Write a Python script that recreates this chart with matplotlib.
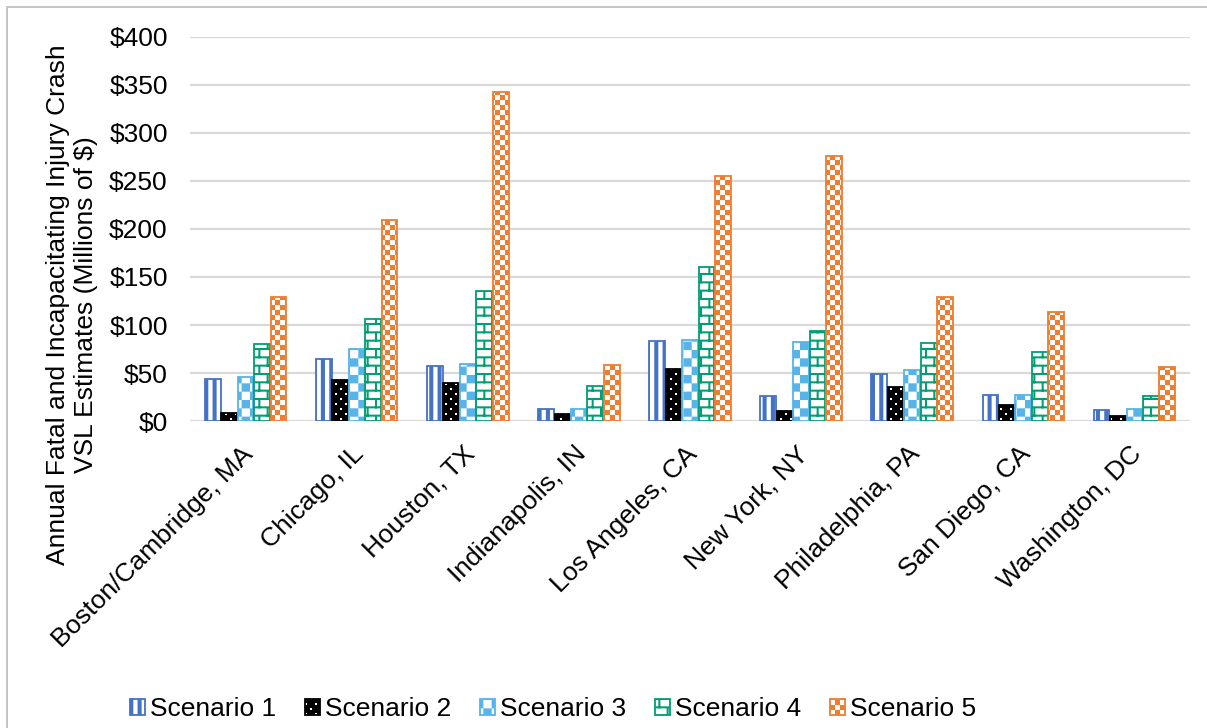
import numpy as np
import matplotlib
matplotlib.use("Agg")
import matplotlib.pyplot as plt
import matplotlib.patches as mpatches
import matplotlib.hatch as mhatch
from matplotlib.path import Path
from matplotlib.ticker import FuncFormatter
from matplotlib.transforms import ScaledTranslation

# === Datos ===
cities = ["Boston/Cambridge, MA", "Chicago, IL", "Houston, TX", "Indianapolis, IN",
          "Los Angeles, CA", "New York, NY", "Philadelphia, PA", "San Diego, CA",
          "Washington, DC"]
scenario_names = ["Scenario 1", "Scenario 2", "Scenario 3", "Scenario 4", "Scenario 5"]
scenario_1 = [44, 65, 57, 13, 83, 26, 49, 27, 11]
scenario_2 = [8, 43, 40, 7, 54, 10, 35, 17, 5]
scenario_3 = [46, 75, 59, 13, 84, 82, 53, 27, 13]
scenario_4 = [80, 106, 135, 36, 160, 94, 81, 72, 26]
scenario_5 = [129, 209, 343, 58, 255, 276, 129, 114, 56]
y_ticks = [0, 50, 100, 150, 200, 250, 300, 350, 400]


# === Patrones de relleno propios (rectangulos rellenos en la celda unidad) ===
def _stripes():
    return [(k / 12, 0, k / 12 + 0.042, 1) for k in range(12)]

def _dots():
    rects = []
    for j in range(20):
        off = 0.05 if j % 2 else 0.0
        for k in range(10):
            x = k / 10 + off
            rects.append((x, j / 20, x + 0.02, j / 20 + 0.02))
    return rects

def _checker(n):
    s = 1.0 / n
    return [(i * s, j * s, (i + 1) * s, (j + 1) * s)
            for i in range(n) for j in range(n) if (i + j) % 2 == 0]

def _bricks():
    rects = []
    h, w, t = 1 / 12, 1 / 6, 0.02
    for j in range(12):
        rects.append((0, j * h, 1, j * h + t))
        for k in range(6):
            x = k * w + (w / 2 if j % 2 else 0)
            rects.append((x, j * h, x + t, (j + 1) * h))
    return rects

PATTERNS = {"|": _stripes(), ".": _dots(), "x": _checker(12),
            "+": _bricks(), "X": _checker(20)}


class RectHatch(mhatch.HatchPatternBase):
    filled = True

    def __init__(self, hatch, density):
        self.rects = []
        for ch, rects in PATTERNS.items():
            if ch in hatch:
                self.rects += rects
        self.num_vertices = 5 * len(self.rects)

    def set_vertices_and_codes(self, vertices, codes):
        for i, (x0, y0, x1, y1) in enumerate(self.rects):
            vertices[5 * i:5 * i + 5] = [(x0, y0), (x1, y0), (x1, y1), (x0, y1), (x0, y0)]
            codes[5 * i:5 * i + 5] = [Path.MOVETO, Path.LINETO, Path.LINETO,
                                      Path.LINETO, Path.CLOSEPOLY]

    get_vertices_and_codes = set_vertices_and_codes


mhatch._hatch_types = [RectHatch]

plt.rcParams["font.family"] = ["Liberation Sans", "DejaVu Sans"]
plt.rcParams["hatch.linewidth"] = 0.05
FS = 19

# estilo de cada escenario: (relleno, color del patron, borde, patron)
styles = [
    ("#4472C4", "white", "#4472C4", "|"),
    ("black", "white", "black", "."),
    ("white", "#56B4E9", "#56B4E9", "x"),
    ("white", "#009E73", "#009E73", "+"),
    ("white", "#ED7D31", "#ED7D31", "X"),
]
series = [scenario_1, scenario_2, scenario_3, scenario_4, scenario_5]

fig = plt.figure(figsize=(12.07, 7.28), dpi=100)
ax = fig.add_axes([190 / 1207, 1 - 421 / 728, 1000 / 1207, 384 / 728])

x = np.arange(len(cities))
step, width = 0.148, 0.142
handles = []
for i, (vals, (face, hcol, edge, pat)) in enumerate(zip(series, styles)):
    pos = x + (i - 2) * step
    ax.bar(pos, vals, width=width, color=face, edgecolor=hcol, linewidth=0, hatch=pat, zorder=3)
    ax.bar(pos, vals, width=width, fill=False, edgecolor=edge, linewidth=1.3, zorder=4)
    handles.append((mpatches.Patch(facecolor=face, edgecolor=hcol, hatch=pat, linewidth=0),
                    mpatches.Patch(fill=False, edgecolor=edge, linewidth=1.3)))

ax.set_xlim(-0.5, len(cities) - 0.5)
ax.set_ylim(0, 400)
ax.set_yticks(y_ticks)
ax.yaxis.set_major_formatter(FuncFormatter(lambda v, p: f"${v:.0f}"))
ax.grid(axis="y", color="#D9D9D9", linewidth=1.6, zorder=0)
ax.set_axisbelow(True)
for s in ax.spines.values():
    s.set_visible(False)
ax.tick_params(axis="both", length=0, labelsize=FS)
ax.tick_params(axis="y", pad=16)
ax.set_xticks(x)
ax.set_xticklabels(cities, rotation=45, ha="right", rotation_mode="anchor")
ax.tick_params(axis="x", pad=15)
shift = ScaledTranslation(-5 / 100, 0, fig.dpi_scale_trans)
for lbl in ax.get_xticklabels():
    lbl.set_transform(lbl.get_transform() + shift)

fig.text(72 / 1207, 1 - 305 / 728,
         "Annual Fatal and Incapacitating Injury Crash\nVSL Estimates (Millions of $)",
         rotation=90, ha="center", va="center", multialignment="center", fontsize=FS)

fig.legend(handles, scenario_names, loc="center", bbox_to_anchor=(553 / 1207, 1 - 709 / 728),
           ncol=5, frameon=False, fontsize=FS, handlelength=0.55, handleheight=0.55,
           handletextpad=0.2, columnspacing=1.1)

fig.patches.append(mpatches.Rectangle((7 / 1207, -0.05), 1.2, 1 - 7 / 728 + 0.05,
                                      transform=fig.transFigure, fill=False,
                                      edgecolor="#BFBFBF", linewidth=1.3))

fig.savefig("out.png", dpi=100)
